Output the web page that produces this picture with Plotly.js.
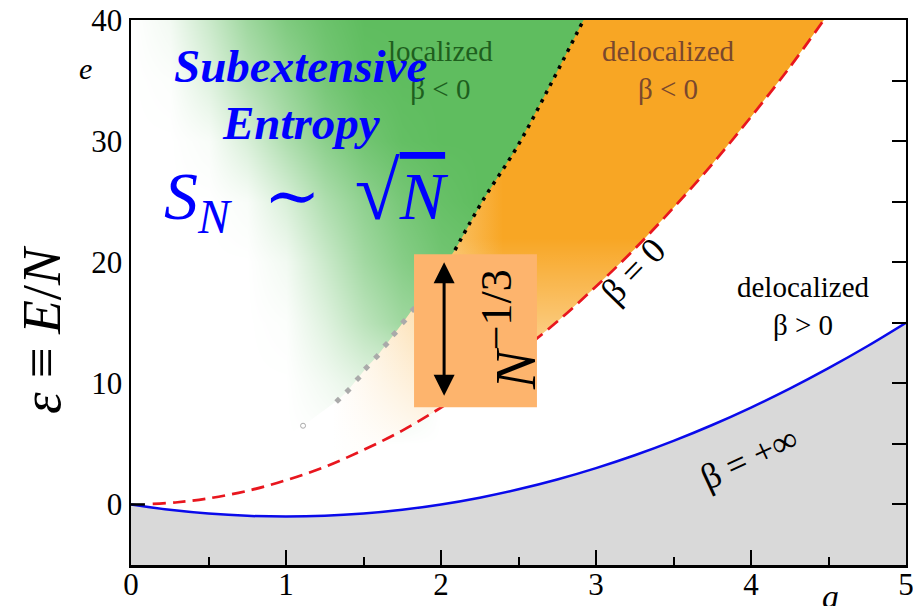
<!DOCTYPE html>
<html><head><meta charset="utf-8">
<script src="https://cdn.plot.ly/plotly-3.0.1.min.js"></script>
<style>html,body{margin:0;padding:0;background:#fff;} #chart{width:913px;height:606px;}</style>
</head><body><div id="chart"></div>
<script>
// beta = 0 boundary (red dashed)
const redA = [0.14, 0.3, 0.5, 0.75, 1.0, 1.25, 1.5, 1.75, 2.0, 2.25, 2.5, 2.75, 3.0, 3.25, 3.5, 3.75, 4.0, 4.25, 4.47];
const redE = [0.04, 0.18, 0.5, 1.12, 2.0, 3.1, 4.5, 6.1, 8.0, 10.1, 12.5, 15.1, 18.0, 21.1, 24.5, 28.1, 32.0, 36.1, 40.0];
// beta = +inf boundary (blue)
const blueA = [0, 0.25, 0.5, 0.75, 1.0, 1.25, 1.5, 1.75, 2.0, 2.25, 2.5, 2.75, 3.0, 3.25, 3.5, 3.75, 4.0, 4.25, 4.5, 4.75, 5.0];
const blueE = [0, -0.44, -0.75, -0.94, -1.0, -0.94, -0.75, -0.44, 0, 0.56, 1.25, 2.06, 3.0, 4.06, 5.25, 6.56, 8.0, 9.56, 11.25, 13.06, 15.0];
// localization boundary (black dotted)
const blackA = [2.09, 2.27, 2.49, 2.70, 2.88, 2.92];
const blackE = [21.0, 25.1, 29.5, 34.5, 39.0, 40.0];
// finite-size points (grey diamonds)
const greyA = [1.335, 1.40, 1.465, 1.52, 1.585, 1.645, 1.70, 1.76, 1.82];
const greyE = [8.6, 9.4, 10.4, 11.3, 12.2, 13.2, 14.1, 15.1, 16.1];
const circleA = [1.11];
const circleE = [6.5];
// zero tick segment
const zeroTickA = [0, 0.09];
const zeroTickE = [0, 0];
// green (subextensive) shading intensity
const greenA = [0, 0.25, 0.5, 0.75, 1.0, 1.25, 1.5, 1.75, 2.0, 2.25, 2.5, 2.75, 3.0];
const greenE = [5, 10, 15, 20, 25, 30, 35, 40];
const greenZ = [
  [0,0,0,0,0,0,0,0,0,0,0,0,0],
  [0,0,0,0,0,0.08,0.18,0.2,0,0,0,0,0],
  [0,0,0,0,0.02,0.2,0.42,0.6,0.65,0,0,0,0],
  [0,0,0,0,0.08,0.33,0.58,0.75,0.88,0.92,0.9,0,0],
  [0,0,0,0.04,0.24,0.5,0.7,0.85,0.95,1,1,1,1],
  [0,0,0.04,0.24,0.5,0.72,0.88,0.97,1,1,1,1,1],
  [0,0.02,0.2,0.45,0.65,0.85,0.97,1,1,1,1,1,1],
  [0,0.08,0.33,0.6,0.8,0.92,1,1,1,1,1,1,1]
];
// N^{-1/3} window
const boxA = [1.826, 2.619];
const boxE = [8.02, 20.66];
const arrowA = [2.02, 2.02];
const arrowE = [8.85, 20.0];
const yMin = -5, yMax = 40, xMin = 0, xMax = 5;
const xTicks = [0, 1, 2, 3, 4, 5];
const yTicks = [0, 10, 20, 30, 40];

const serif = 'Liberation Serif, DejaVu Serif, serif';
// plot-area pixel helpers for paper-positioned labels
const L = 131, T = 20, W = 775, H = 545;
const px = v => (v - L) / W;
const py = v => (T + H - v) / H;

const polyA = redA.concat(blackA.slice().reverse(), greyA.slice().reverse(), circleA);
const polyE = redE.concat(blackE.slice().reverse(), greyE.slice().reverse(), circleE);

const traces = [
  {type:'heatmap', x: greenA, y: greenE, z: greenZ, zmin:0, zmax:1, zsmooth:'best',
   colorscale:[[0,'rgb(255,255,255)'],[1,'rgb(95,189,95)']], showscale:false, hoverinfo:'skip'},
  {type:'scatter', mode:'lines', x: polyA, y: polyE, fill:'toself', line:{width:0},
   fillcolor:'rgb(248,166,36)',
   fillgradient:{type:'horizontal', start:1.3, stop:2.4, colorscale:[[0,'rgb(255,255,255)'],[1,'rgb(248,166,36)']]},
   hoverinfo:'skip', showlegend:false},
  {type:'scatter', mode:'lines', x: polyA, y: polyE, fill:'toself', line:{width:0},
   fillcolor:'rgba(255,255,255,0)',
   fillgradient:{type:'vertical', start:5, stop:22, colorscale:[[0,'rgba(255,255,255,0.9)'],[1,'rgba(255,255,255,0)']]},
   hoverinfo:'skip', showlegend:false},
  {type:'scatter', mode:'lines', x:[xMin, xMax], y:[yMin, yMin], line:{width:0}, hoverinfo:'skip', showlegend:false},
  {type:'scatter', mode:'lines', x: blueA, y: blueE, fill:'tonexty', fillcolor:'rgb(217,217,217)',
   line:{color:'rgb(10,10,235)', width:2.5, shape:'spline'}, showlegend:false},
  {type:'scatter', mode:'lines', x: redA, y: redE, line:{color:'rgb(232,22,30)', width:2.7, dash:'13px,7px', shape:'spline'}, showlegend:false},
  {type:'scatter', mode:'lines', x: blackA, y: blackE, line:{color:'black', width:3.5, dash:'3.5px,6px', shape:'spline'}, showlegend:false},
  {type:'scatter', mode:'markers', x: greyA, y: greyE, marker:{symbol:'diamond', size:5.5, color:'rgb(170,170,170)'}, showlegend:false},
  {type:'scatter', mode:'markers', x: circleA, y: circleE, marker:{symbol:'circle-open', size:5, color:'rgb(170,170,170)', line:{width:1}}, showlegend:false},
  {type:'scatter', mode:'lines', x: zeroTickA, y: zeroTickE, yaxis:'y2', line:{color:'black', width:2.5}, showlegend:false, hoverinfo:'skip'}
];

function lab(xp, yp, text, size, color, extra) {
  return Object.assign({xref:'paper', yref:'paper', x:px(xp), y:py(yp), text:text, showarrow:false,
    xanchor:'center', yanchor:'middle', font:{family:serif, size:size, color:color}}, extra || {});
}

const layout = {
  width:913, height:606,
  margin:{l:L, r:913 - L - W, t:T, b:606 - T - H},
  paper_bgcolor:'white', plot_bgcolor:'white',
  showlegend:false,
  font:{family:serif, color:'black'},
  xaxis:{range:[xMin, xMax], tickvals:xTicks, ticks:'inside', ticklen:15, tickwidth:2, tickcolor:'black',
    minor:{dtick:0.5, tick0:0, ticks:'inside', ticklen:8, tickwidth:2, tickcolor:'black'},
    showline:true, linewidth:2.5, linecolor:'black', mirror:true, showgrid:false, zeroline:false,
    tickfont:{family:serif, size:31, color:'black'}, ticklabelstandoff:-10, ticklabeloverflow:'allow'},
  yaxis:{range:[yMin, yMax], tickvals:yTicks, ticks:'', showline:true, linewidth:2.5, linecolor:'black',
    showgrid:false, zeroline:false, tickfont:{family:serif, size:31, color:'black'}, ticklabelstandoff:0},
  yaxis2:{range:[yMin, yMax], overlaying:'y', side:'right', tick0:0, dtick:5, ticks:'inside', ticklen:14, tickwidth:2,
    tickcolor:'black', showticklabels:false, showline:true, linewidth:2, linecolor:'black', showgrid:false, zeroline:false},
  shapes:[
    {type:'rect', xref:'x', yref:'y', x0:boxA[0], x1:boxA[1], y0:boxE[0], y1:boxE[1], fillcolor:'rgb(253,180,109)', line:{width:0}, layer:'above'}
  ],
  annotations:[
    {xref:'x', yref:'y', x:arrowA[1], y:arrowE[1], ax:arrowA[0], ay:arrowE[0], axref:'x', ayref:'y', text:'',
     showarrow:true, arrowside:'end+start', arrowhead:2, arrowsize:1.4, arrowwidth:3, arrowcolor:'black'},
    lab(510, 330, '<i>N</i><sup><span style="font-size:44px">−1/3</span></sup>', 58, 'black', {textangle:-90}),
    lab(440, 70, 'localized<br>β &lt; 0', 29, 'rgb(30,95,30)'),
    lab(668, 70, 'delocalized<br>β &lt; 0', 29, 'rgb(122,72,45)'),
    lab(803, 306, 'delocalized<br>β &gt; 0', 29, 'black'),
    lab(633, 271, 'β = 0', 36, 'black', {textangle:-46}),
    lab(749, 458, 'β = +∞', 36, 'black', {textangle:-25}),
    lab(300, 66, '<b><i>Subextensive</i></b>', 47, 'rgb(0,0,255)'),
    lab(301, 123, '<b><i>Entropy</i></b>', 47, 'rgb(0,0,255)'),
    lab(306, 194, '<i>S</i><sub><i>N</i></sub>\u00a0\u00a0\u223c\u00a0\u00a0<span style="font-size:82px">√</span><span style="text-decoration:overline"><i>N</i></span>', 68, 'rgb(0,0,255)'),
    lab(85, 68, '<i>e</i>', 30, 'black'),
    lab(830, 596, '<i>a</i>', 34, 'black'),
    lab(42, 330, '<i>ε</i>\u00a0≡\u00a0<i>E</i>/<i>N</i>', 55, 'black', {textangle:-90})
  ]
};

Plotly.newPlot('chart', traces, layout, {displayModeBar:false, staticPlot:true});
</script></body></html>
